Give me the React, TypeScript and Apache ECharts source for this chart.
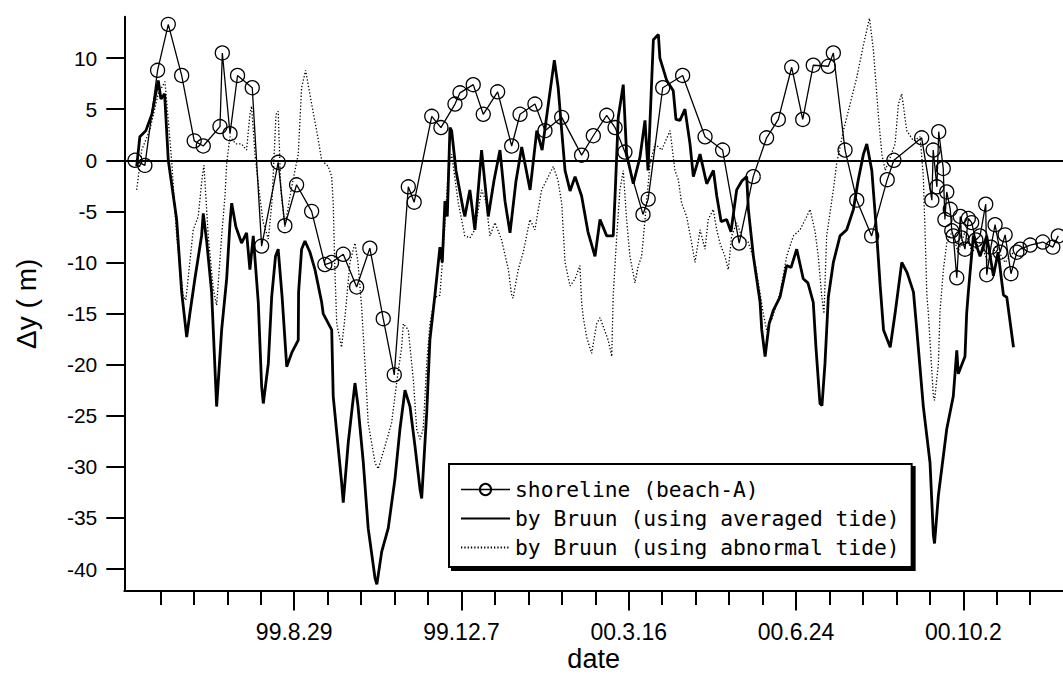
import React, { useEffect, useRef } from "react";
import * as echarts from "echarts";

// x = days after 99.8.29, y = Δy (m)
const shoreline: [number, number][] = [
  [-95.2, 0.0], [-89.3, -0.5], [-81.7, 8.8], [-75.3, 13.3], [-67.3, 8.3], [-59.8, 1.9], [-54.4, 1.4],
  [-44.4, 3.3], [-43.0, 10.5], [-38.4, 2.6], [-33.9, 8.3], [-25.1, 7.1], [-19.5, -8.4], [-9.6, -0.2],
  [-5.6, -6.4], [1.4, -2.4], [10.4, -5.0], [18.3, -10.2], [22.3, -10.0], [29.3, -9.2], [37.3, -12.4],
  [45.2, -8.6], [53.2, -15.5], [59.8, -21.0], [68.2, -2.6], [71.7, -4.1], [82.2, 4.3], [87.7, 3.2],
  [96.1, 5.5], [99.1, 6.6], [107.0, 7.4], [113.0, 4.5], [121.6, 6.7], [130.0, 1.4], [135.0, 4.5],
  [143.9, 5.5], [149.9, 2.9], [159.9, 4.2], [171.8, 0.5], [178.8, 2.4], [186.8, 4.4], [191.8, 3.2],
  [197.7, 0.8], [208.5, -5.3], [211.6, -3.8], [220.3, 7.1], [232.2, 8.3], [245.6, 2.3], [256.1, 1.0],
  [266.0, -8.1], [274.4, -1.6], [282.4, 2.2], [289.4, 4.0], [297.4, 9.1], [304.0, 4.0], [310.3, 9.3],
  [319.3, 9.2], [322.3, 10.5], [329.3, 1.0], [336.3, -3.9], [345.2, -7.4], [354.5, -1.9], [358.5, 0.0],
  [375.1, 2.2], [381.2, -3.9], [382.0, 1.0], [384.2, -2.6], [385.3, 2.8], [388.0, -0.8], [389.0, -5.8],
  [390.1, -3.1], [392.2, -4.8], [393.1, -6.9], [394.0, -7.4], [396.1, -11.5], [398.2, -5.5], [399.0, -7.6],
  [401.0, -8.7], [403.0, -5.7], [405.0, -6.1], [407.5, -7.8], [410.0, -7.4], [413.4, -4.3], [414.0, -11.2],
  [416.5, -8.5], [419.0, -6.3], [422.0, -9.0], [425.0, -7.3], [428.5, -11.1], [432.0, -9.0], [434.0, -8.7],
  [440.0, -8.3], [447.5, -8.0], [453.5, -8.5], [456.8, -7.4],
];

const bruunAveraged: [number, number][] = [
  [-94.2, -0.6], [-92.3, 2.3], [-88.7, 2.9], [-85.1, 4.5], [-81.3, 7.8], [-79.7, 6.0], [-77.5, 6.5],
  [-75.3, 0], [-70.3, -5.8], [-67.3, -12.9], [-64.3, -17.3], [-62.4, -15], [-59.4, -11.6], [-55.4, -7.4],
  [-54.4, -5.2], [-52.3, -8], [-49.4, -12.9], [-46.4, -24.1], [-43.4, -16.6], [-40.4, -11.6], [-38.4, -6.1],
  [-37.4, -4.2], [-34.9, -6.5], [-31.5, -8.1], [-28.5, -7.1], [-26.5, -10.7], [-24.5, -7.4], [-21.5, -13.9],
  [-19.5, -22.1], [-18.5, -23.8], [-15.5, -19.9], [-13.5, -13.4], [-11.2, -9.4], [-9.6, -8.7], [-7.2, -13.5],
  [-4.5, -20.2], [-1.4, -18.8], [2.4, -17.6], [2.6, -12.9], [4.4, -8.7], [6.4, -7.9], [9.4, -9],
  [12.4, -10.7], [16.4, -13.9], [17.3, -15.0], [22.4, -16.6], [23.3, -23.1], [28.3, -31.5], [29.3, -33.5],
  [32.3, -27.6], [36.3, -21.8], [38.1, -24], [41.3, -29.6], [44.2, -36.0], [48.3, -40.9], [49.4, -41.5],
  [52.3, -38.3], [56.2, -36], [60.2, -31.2], [63.2, -26.3], [66.2, -22.5], [69.2, -24.1], [72.2, -28],
  [75.2, -32.2], [76.2, -33.1], [79.2, -24.7], [81.1, -17.6], [84.1, -13.2], [87.1, -8.5], [88.5, -10],
  [90.1, -4], [91.5, -5.5], [93.1, 3.2], [94.1, 2.9], [96.7, -1], [101, -4.8], [102, -5.5], [105, -2.9],
  [108, -6.8], [112, 1.0], [116, -5.5], [119.4, -2], [123, 1.0], [126, -4], [129, -7.1], [132.6, -2],
  [136, 1.3], [141, -2.9], [145, 2.9], [148.2, 1], [151.9, 5.5], [155.5, 9.8], [157.8, 7.1], [159.9, 2.9],
  [161.9, -1.0], [164.9, -3], [167.9, -1.6], [171.8, -3.5], [175.6, -7], [179.8, -9.4], [182.8, -5.8],
  [186.8, -7.4], [190.7, -7.4], [191.8, -3.5], [193.7, 4.2], [196.7, 7.4], [198.7, 0.6], [202.7, -2.3],
  [206.7, 0.3], [209.7, 3.9], [211.5, -1], [214.7, 11.8], [217.7, 12.3], [218.6, 10.0], [222.7, 7.8],
  [226.6, 6.8], [228.2, 4], [230.6, 3.9], [233.6, 5], [236.6, 1.6], [238.6, -1.6], [242.6, 0.6],
  [246.6, -2.3], [250.6, -1.0], [252.6, -3.5], [255.2, -6], [258.5, -5.8], [261.1, -7], [264.5, -2.9],
  [267.7, -2], [270.5, -1.6], [271.5, -4.8], [274.5, -9.4], [278.5, -13.9], [279.5, -16.6], [281.5, -19.2],
  [283.9, -16], [286.4, -14.7], [290.4, -13.4], [294.4, -10.3], [297, -10.5], [300.4, -8.7], [304.3, -11.6],
  [307.1, -12], [310.3, -13.9], [311.9, -18.3], [314.3, -23.8], [315.5, -24], [317.3, -19.9], [319.3, -13.4],
  [322.3, -10.0], [326.3, -7.4], [330.3, -6.8], [334.3, -4.8], [337.1, -2], [340.3, 0.6], [342.3, 1.6],
  [345.3, -1.0], [348.3, -7.4], [350.3, -12.3], [352.3, -16.6], [356.3, -18.3], [359.2, -15.0], [363.2, -10.0],
  [366.4, -11], [370.2, -12.9], [372.2, -16.6], [376.1, -24.1], [380.1, -29.6], [382.1, -36.7], [382.8, -37.5],
  [385.1, -32.8], [390.1, -26.3], [394, -23.1], [396.1, -18.6], [397, -20.9], [401, -19.2], [402, -15.0],
  [403, -12.9], [406, -7.4], [410, -9.4], [414, -7.4], [418, -11.3], [420.8, -9], [424, -13.2], [426, -13.4],
  [430, -18.3],
];

const bruunAbnormal: [number, number][] = [
  [-94.2, -2.9], [-91.2, 1.0], [-86.3, 3], [-81.3, 6.5], [-77.3, 7.7], [-73.3, 0], [-70.3, -7.4],
  [-66.4, -13.2], [-64.8, -13.7], [-60.4, -6.8], [-57.4, -5.5], [-55, -1.6], [-54, -0.5], [-51.4, -7.4],
  [-48.4, -12.6], [-46.4, -14.2], [-43.4, -7.4], [-41.4, -3.5], [-40.4, -0.3], [-38.4, 2.3], [-34.9, 1.6],
  [-31.5, 1.6], [-28.5, 1.0], [-26.5, 4.5], [-25.5, 5.3], [-23.5, 0.6], [-21.7, -2], [-18.7, -6],
  [-15.5, -7.7], [-13.3, -4], [-10.9, 4.5], [-9.6, 4.8], [-8, -3], [-5.6, -6.5], [-2, -3], [2.4, 0.6],
  [4.4, 7.1], [6.8, 8.8], [10.4, 5.5], [13.4, 2.9], [16.4, 0], [20.3, -0.6], [22.4, -1.6], [23.3, -4.2],
  [24.3, -10.7], [25.4, -16], [28.3, -18.3], [30.3, -15.4], [33.3, -10], [36.3, -8.1], [38.1, -10],
  [40.3, -14.4], [42.3, -19.9], [44.2, -25.7], [48.3, -29.6], [50.2, -30.2], [54.2, -28], [58.2, -25.7],
  [61.2, -21.8], [64.2, -18.3], [65.2, -16], [68.2, -16.6], [71.2, -21.5], [73.2, -26.3], [75.2, -27.3],
  [77.1, -26.3], [79.2, -19.9], [81.1, -16.0], [84.1, -13.4], [87.1, -13.2], [89.1, -8.7], [92.1, -1.0],
  [94.1, 0.6], [98.1, -4.2], [102, -7.4], [105, -7.6], [108, -6.8], [112, -2.9], [114.6, -4], [117, -7.4],
  [120, -6.1], [124, -7.8], [128, -10.7], [130, -13.2], [130.8, -13.5], [133.9, -10.7], [136.9, -9.0],
  [140.9, -5.8], [143.9, -6.8], [147.9, -2.9], [151.9, -1.6], [154.9, -0.6], [157.7, -2], [159.9, -4.2],
  [161.9, -10], [164.9, -12.3], [167.9, -11.6], [170.8, -10.3], [171.8, -13.9], [172.8, -15.4],
  [174.8, -17.3], [177.8, -18.9], [180.8, -16], [182.8, -15.4], [184.8, -16.3], [187.7, -17.6],
  [189.8, -19.2], [190.7, -13.2], [192.8, -7.4], [194.7, -2.9], [196.7, -1.0], [198.7, -5.8], [200.7, -9.4],
  [203.7, -12.0], [205.7, -10.3], [207.7, -9.4], [209.7, -5.8], [212.7, -0.3], [215.7, 1.6], [219.7, 1.0],
  [222.3, 2], [224.7, 2.9], [227.6, -1.0], [229.6, -1.9], [231.6, -4.2], [234.6, -5.5], [237.6, -8.1],
  [239.6, -10.0], [242.6, -6.8], [245.6, -8.7], [247.5, -5.8], [250.5, -4.8], [252.6, -6.8], [254.5, -8.1],
  [257.5, -9.4], [259.5, -10.7], [261.5, -7.4], [264.5, -6.1], [267.7, -7.5], [271.3, -8], [275.5, -10],
  [278.5, -13], [280.4, -15], [282.4, -16.6], [285.6, -15.5], [290.4, -13], [294.4, -9.4], [298.4, -7.4],
  [302.4, -6.8], [306.4, -5.5], [308.4, -4.8], [311.4, -7], [313.3, -9.4], [315.3, -13.2], [316.7, -15],
  [318.3, -7.4], [322.3, -2.9], [324.3, -0.3], [328.3, 2.9], [332.3, 5.5], [336.3, 8.1], [340.3, 11.3],
  [343.9, 13.9], [346.3, 10.7], [349.3, 4.2], [351.3, 0.6], [353.3, -1.0], [356.3, 0.3], [359.2, 1.6],
  [361.2, 5.5], [363.2, 6.5], [366.2, 2.9], [370.2, 1.9], [374.2, 2.3], [376.1, -1.6], [377.2, -7.4],
  [378.2, -13.2], [379.1, -15], [382.1, -23.1], [382.8, -23.5], [385.1, -19.9], [386.1, -14.7],
  [388.1, -10.7], [390.1, -8.1], [393.3, -7], [396.8, -9], [401, -7], [405.2, -9], [410, -8], [414.8, -10],
  [419.6, -8.5], [425, -10], [430, -9],
];

const seriesNames = [
  "shoreline (beach-A)",
  "by Bruun (using averaged tide)",
  "by Bruun (using abnormal tide)",
];

const majorTickDays = [0, 100, 200, 300, 400];
const majorTickLabels = ["99.8.29", "99.12.7", "00.3.16", "00.6.24", "00.10.2"];
const minorTickDays = [-80, -60, -40, -20, 0, 20, 40, 60, 80, 100, 120, 140, 160, 180, 200, 220, 240, 260, 280, 300, 320, 340, 360, 380, 400, 420, 440];
const yTickValues = [-40, -35, -30, -25, -20, -15, -10, -5, 0, 5, 10];

const X_MIN = -101.6;
const X_MAX = 459.6;
const Y_MIN = -42.15;
const Y_MAX = 14.05;

export default function App() {
  const ref = useRef<HTMLDivElement>(null);

  useEffect(() => {
    if (!ref.current) return;
    const chart = echarts.init(ref.current, undefined, { renderer: "svg" });
    const black = "#000";
    const sans = "Liberation Sans";

    chart.setOption({
      animation: false,
      backgroundColor: "#fff",
      grid: { left: 124.3, right: 0, top: 16.7, bottom: 80.3, containLabel: false },
      legend: {
        orient: "vertical",
        left: 449,
        top: 464,
        align: "left",
        data: [
          { name: seriesNames[0], lineStyle: { width: 1.3 } },
          { name: seriesNames[1], itemStyle: { opacity: 0, borderWidth: 0 }, lineStyle: { width: 2 } },
          { name: seriesNames[2], itemStyle: { opacity: 0, borderWidth: 0 } },
        ],
        selectedMode: false,
        itemWidth: 49,
        itemHeight: 14,
        itemGap: 8,
        padding: [15, 12, 9, 11],
        borderColor: black,
        borderWidth: 2,
        backgroundColor: "#fff",
        shadowColor: black,
        shadowBlur: 0,
        shadowOffsetX: 3,
        shadowOffsetY: 3,
        textStyle: { fontFamily: "DejaVu Sans Mono", fontSize: 21.3, color: black },
      },
      xAxis: [
        {
          type: "value",
          position: "bottom",
          min: X_MIN,
          max: X_MAX,
          axisLine: { show: true, onZero: false, lineStyle: { color: black, width: 2 } },
          axisTick: { show: true, customValues: minorTickDays, length: 14, lineStyle: { color: black, width: 2 } },
          axisLabel: { show: false },
          splitLine: { show: false },
          name: "date",
          nameLocation: "middle",
          nameGap: 54,
          nameTextStyle: { fontFamily: sans, fontSize: 27, color: black },
        },
        {
          type: "value",
          position: "bottom",
          offset: 0,
          min: X_MIN,
          max: X_MAX,
          axisLine: { show: false, onZero: false },
          axisTick: { show: true, customValues: majorTickDays, length: 19.5, lineStyle: { color: black, width: 2 } },
          axisLabel: {
            show: true,
            customValues: majorTickDays,
            margin: 29,
            fontFamily: sans,
            fontSize: 23,
            color: black,
            formatter: (v: number) => {
              const i = majorTickDays.indexOf(Math.round(v));
              return i >= 0 ? majorTickLabels[i] : "";
            },
          },
          splitLine: { show: false },
        },
      ],
      yAxis: {
        type: "value",
        min: Y_MIN,
        max: Y_MAX,
        axisLine: { show: true, onZero: false, lineStyle: { color: black, width: 2 } },
        axisTick: { show: true, customValues: yTickValues, length: 18, lineStyle: { color: black, width: 2 } },
        axisLabel: { customValues: yTickValues, margin: 27, fontFamily: sans, fontSize: 21, color: black },
        splitLine: { show: false },
        name: "Δy ( m)",
        nameLocation: "middle",
        nameRotate: 90,
        nameGap: 84,
        nameTextStyle: { fontFamily: sans, fontSize: 28, color: black },
      },
      series: [
        {
          name: seriesNames[0],
          type: "line",
          data: shoreline,
          symbol: "circle",
          symbolSize: 14,
          showSymbol: true,
          itemStyle: { color: "rgba(0,0,0,0)", borderColor: black, borderWidth: 1.3 },
          lineStyle: { color: black, width: 1.3 },
          z: 5,
          silent: true,
        },
        {
          name: seriesNames[1],
          type: "line",
          data: bruunAveraged,
          symbol: "none",
          showSymbol: false,
          itemStyle: { color: black },
          lineStyle: { color: black, width: 2.8 },
          z: 4,
          silent: true,
          markLine: {
            silent: true,
            symbol: "none",
            label: { show: false },
            lineStyle: { color: black, type: "solid", width: 2 },
            data: [{ yAxis: 0 }],
          },
        },
        {
          name: seriesNames[2],
          type: "line",
          data: bruunAbnormal,
          symbol: "none",
          showSymbol: false,
          itemStyle: { color: black },
          lineStyle: { color: black, width: 1.3, type: [1.3, 2] },
          z: 3,
          silent: true,
        },
      ],
    });

    return () => chart.dispose();
  }, []);

  return (
    <div
      ref={ref}
      style={{ position: "absolute", left: 0, top: 0, width: 1063, height: 677, background: "#fff" }}
    />
  );
}
